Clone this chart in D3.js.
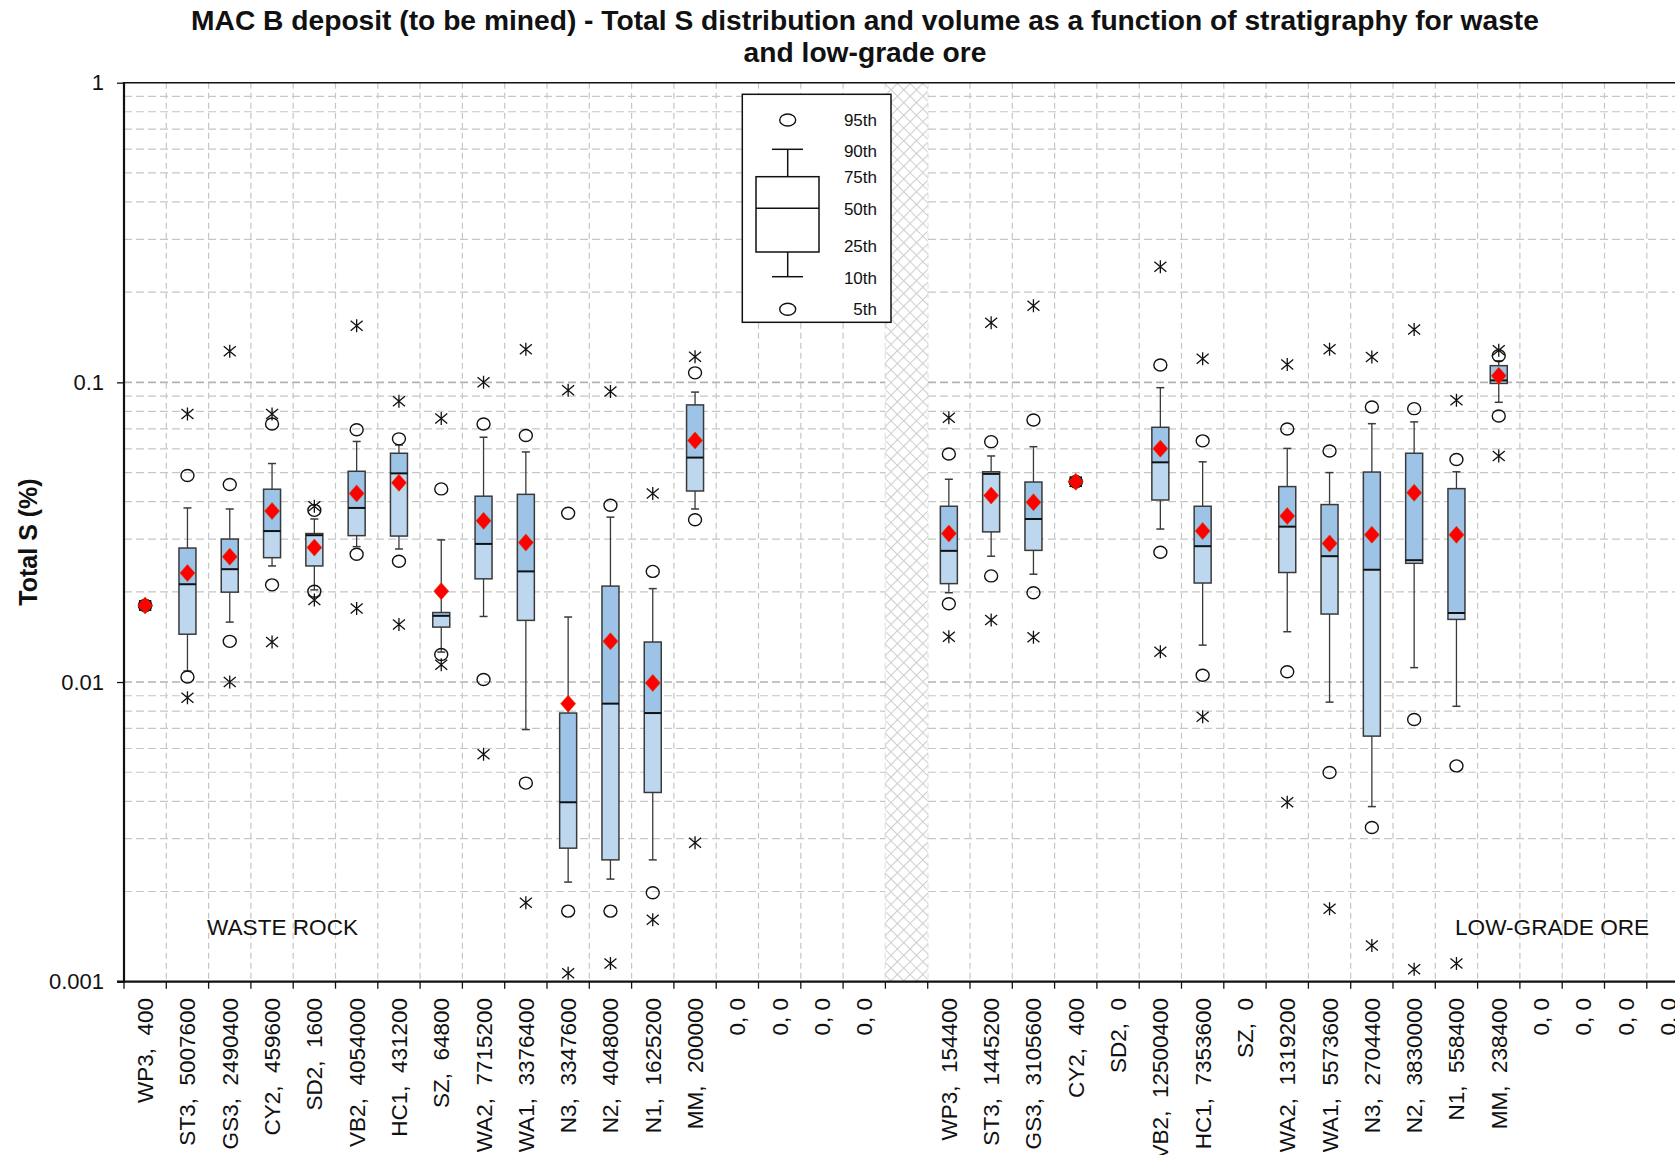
<!DOCTYPE html>
<html>
<head>
<meta charset="utf-8">
<script src="https://cdn.jsdelivr.net/npm/d3@7"></script>
<style>
  html, body { margin: 0; padding: 0; background: #fff; }
  svg { display: block; font-family: "Liberation Sans", Arial, sans-serif; }
  .xlab { white-space: pre; }
</style>
</head>
<body>
<svg id="chart" width="1675" height="1155"></svg>
<script>
// ---- Stratigraphic units and volumes (m3) ----
const wasteUnits   = ["WP3","ST3","GS3","CY2","SD2","VB2","HC1","SZ","WA2","WA1","N3","N2","N1","MM","0","0","0","0"];
const wasteVolumes = [400,5007600,2490400,459600,1600,4054000,431200,64800,7715200,3376400,3347600,4048000,1625200,200000,0,0,0,0];
const oreUnits     = ["WP3","ST3","GS3","CY2","SD2","VB2","HC1","SZ","WA2","WA1","N3","N2","N1","MM","0","0","0","0"];
const oreVolumes   = [154400,1445200,3105600,400,0,12500400,7353600,0,1319200,5573600,2704400,3830000,558400,238400,0,0,0,0];

// ---- Total S (%) statistics, waste rock ----
const wasteMax  = [0.018,0.0784,0.127,0.0784,0.0386,0.1545,0.0865,0.0757,0.100,0.129,0.0942,0.0933,0.0426,0.1217];
const wasteP95  = [0.018,0.0489,0.0456,0.0726,0.0374,0.0695,0.0648,0.0441,0.0726,0.0665,0.0366,0.0389,0.0234,0.1076];
const wasteP90  = [0.018,0.0381,0.0378,0.0536,0.0350,0.0635,0.0618,0.0298,0.0656,0.0586,0.01648,0.0355,0.0205,0.0928];
const wasteP75  = [0.018,0.0280,0.0300,0.0440,0.0313,0.0505,0.0580,0.01706,0.0417,0.0423,0.00788,0.0209,0.0136,0.0841];
const wasteP50  = [0.018,0.0212,0.0238,0.0319,0.0309,0.0381,0.0497,0.01663,0.0289,0.0234,0.00397,0.00847,0.00788,0.0561];
const wasteP25  = [0.018,0.01444,0.01995,0.0260,0.0244,0.0308,0.0307,0.01525,0.0221,0.01606,0.00279,0.00255,0.00428,0.0434];
const wasteP10  = [0.018,0.01088,0.01585,0.0244,0.0203,0.0283,0.0278,0.01259,0.01655,0.00694,0.00215,0.0022,0.00255,0.0378];
const wasteP5   = [0.018,0.0104,0.01367,0.0211,0.0201,0.0267,0.0253,0.01236,0.0102,0.0046,0.00172,0.00172,0.00198,0.0348];
const wasteMin  = [0.018,0.00887,0.0100,0.0136,0.0188,0.0176,0.01556,0.01142,0.00574,0.001836,0.001067,0.00115,0.00161,0.00291];
const wasteMean = [0.018,0.0231,0.0262,0.0372,0.0281,0.0426,0.0462,0.0201,0.0345,0.0292,0.00847,0.01367,0.00993,0.064];

// ---- Total S (%) statistics, low-grade ore ----
const oreMax  = [0.0762,0.158,0.180,0.0466,null,0.243,0.120,null,0.1148,0.129,0.1216,0.150,0.0871,0.128];
const oreP95  = [0.0577,0.0634,0.0749,0.0466,null,0.1143,0.0638,null,0.0699,0.059,0.0828,0.0817,0.0553,0.1227];
const oreP90  = [0.0475,0.0568,0.061,0.0466,null,0.096,0.0543,null,0.0602,0.050,0.0728,0.0738,0.0503,0.118];
const oreP75  = [0.0386,0.0503,0.0465,0.0466,null,0.0708,0.0386,null,0.0449,0.0391,0.0502,0.058,0.0442,0.1137];
const oreP50  = [0.0274,0.0495,0.035,0.0466,null,0.0541,0.0284,null,0.033,0.0263,0.0237,0.0255,0.0170,0.1015];
const oreP25  = [0.0213,0.0317,0.0275,0.0466,null,0.0405,0.0214,null,0.0232,0.01686,0.0066,0.0249,0.01618,0.0992];
const oreP10  = [0.01986,0.0263,0.0229,0.0466,null,0.0324,0.01328,null,0.01472,0.00857,0.00384,0.01117,0.0083,0.0858];
const oreP5   = [0.01824,0.0226,0.01986,0.0466,null,0.0271,0.01054,null,0.01082,0.00499,0.00327,0.0075,0.00525,0.0772];
const oreMin  = [0.01416,0.0161,0.0141,0.0466,null,0.01262,0.00766,null,0.00397,0.00175,0.00132,0.0011,0.00115,0.0568];
const oreMean = [0.0313,0.0419,0.0398,0.0466,null,0.0601,0.0319,null,0.0358,0.029,0.031,0.0428,0.031,0.1052];

const yTicks = [1, 0.1, 0.01, 0.001];
const legendLabels = ["95th","90th","75th","50th","25th","10th","5th"];

const titleLines = ["MAC B deposit (to be mined) - Total S distribution and volume as a function of stratigraphy for waste",
                    "and low-grade ore"];

// ---- layout ----
const svg = d3.select("#chart");
const FONT = '"Liberation Sans", Arial, sans-serif';
const plotLeft = 124, plotTop = 82.7, plotBottom = 981.7;
const bandW = 42.3;

const keys = [...wasteUnits.map((d, i) => "W" + i), "gap", ...oreUnits.map((d, i) => "O" + i)];
const x = d3.scaleBand().domain(keys).range([plotLeft, plotLeft + keys.length * bandW]).padding(0);
const y = d3.scaleLog().domain([0.001, 1]).range([plotBottom, plotTop]);
const plotRight = plotLeft + keys.length * bandW;

// hatch pattern for the separator column
const defs = svg.append("defs");
const pat = defs.append("pattern").attr("id", "hatch").attr("patternUnits", "userSpaceOnUse")
  .attr("width", 9).attr("height", 9).attr("patternTransform", "rotate(45)");
pat.append("rect").attr("width", 9).attr("height", 9).attr("fill", "#fff");
pat.append("path").attr("d", "M0,0H9M0,0V9").attr("stroke", "#cfcfcf").attr("stroke-width", 2.2).attr("fill", "none");

// ---- gridlines ----
const grid = svg.append("g");
const gridVals = [];
for (let e = -3; e < 0; e++) for (let m = 1; m < 10; m++) gridVals.push(m * Math.pow(10, e));
const isDecade = d => Math.abs(Math.log10(d) - Math.round(Math.log10(d))) < 1e-9;
grid.selectAll("line.h").data(gridVals.filter(v => v > 0.0011)).join("line")
  .attr("x1", plotLeft).attr("x2", plotRight)
  .attr("y1", d => y(d)).attr("y2", d => y(d))
  .attr("stroke", d => isDecade(d) ? "#b3b3b3" : "#c6c6c6")
  .attr("stroke-width", d => isDecade(d) ? 1.6 : 1.2)
  .attr("stroke-dasharray", "8,4");
grid.selectAll("line.v").data(keys.slice(1)).join("line")
  .attr("x1", d => x(d)).attr("x2", d => x(d))
  .attr("y1", plotTop).attr("y2", plotBottom)
  .attr("stroke", "#c6c6c6").attr("stroke-width", 1.2).attr("stroke-dasharray", "6,4");

// separator column
svg.append("rect").attr("x", x("gap")).attr("y", plotTop).attr("width", x.bandwidth())
  .attr("height", plotBottom - plotTop).attr("fill", "url(#hatch)");

// ---- box plots ----
const boxW = 17, capW = 8;
const starPath = "M0,-6.5V6.5M-6,-5L6,5M-6,5L6,-5";
const diamondPath = "M0,-8.5L7.5,0L0,8.5L-7.5,0Z";

function drawZone(prefix, s) {
  const g = svg.append("g");
  s.p50.forEach((med, i) => {
    if (med == null) return;
    const cx = x(prefix + i) + x.bandwidth() / 2;
    const gi = g.append("g");
    // whiskers and caps
    [[s.p75[i], s.p90[i]], [s.p25[i], s.p10[i]]].forEach(([a, b]) => {
      if (Math.abs(y(a) - y(b)) < 0.5) return;
      gi.append("line").attr("x1", cx).attr("x2", cx).attr("y1", y(a)).attr("y2", y(b))
        .attr("stroke", "#3a3a3a").attr("stroke-width", 1.3);
      gi.append("line").attr("x1", cx - capW / 2).attr("x2", cx + capW / 2).attr("y1", y(b)).attr("y2", y(b))
        .attr("stroke", "#3a3a3a").attr("stroke-width", 1.5);
    });
    // box: lower quartile range lighter, upper quartile range darker
    if (Math.abs(y(s.p25[i]) - y(s.p75[i])) > 0.5) {
      gi.append("rect").attr("x", cx - boxW / 2).attr("width", boxW)
        .attr("y", y(med)).attr("height", y(s.p25[i]) - y(med)).attr("fill", "#bdd7ee");
      gi.append("rect").attr("x", cx - boxW / 2).attr("width", boxW)
        .attr("y", y(s.p75[i])).attr("height", y(med) - y(s.p75[i])).attr("fill", "#9dc3e6");
      gi.append("rect").attr("x", cx - boxW / 2).attr("width", boxW)
        .attr("y", y(s.p75[i])).attr("height", y(s.p25[i]) - y(s.p75[i]))
        .attr("fill", "none").attr("stroke", "#3a3a3a").attr("stroke-width", 1.5);
      gi.append("line").attr("x1", cx - boxW / 2).attr("x2", cx + boxW / 2).attr("y1", y(med)).attr("y2", y(med))
        .attr("stroke", "#111").attr("stroke-width", 2);
    }
    // 5th / 95th percentiles
    [s.p95[i], s.p5[i]].forEach(v => {
      gi.append("ellipse").attr("cx", cx).attr("cy", y(v)).attr("rx", 6.5).attr("ry", 6)
        .attr("fill", "none").attr("stroke", "#111").attr("stroke-width", 1.4);
    });
    // minimum / maximum
    [s.max[i], s.min[i]].forEach(v => {
      gi.append("path").attr("d", starPath).attr("transform", `translate(${cx},${y(v)})`)
        .attr("stroke", "#111").attr("stroke-width", 1.3).attr("fill", "none");
    });
    // mean
    gi.append("path").attr("d", diamondPath).attr("transform", `translate(${cx},${y(s.mean[i])})`)
      .attr("fill", "#ff0000").attr("stroke", "#d04000").attr("stroke-width", 0.6);
  });
}

drawZone("W", {max: wasteMax, p95: wasteP95, p90: wasteP90, p75: wasteP75, p50: wasteP50,
               p25: wasteP25, p10: wasteP10, p5: wasteP5, min: wasteMin, mean: wasteMean});
drawZone("O", {max: oreMax, p95: oreP95, p90: oreP90, p75: oreP75, p50: oreP50,
               p25: oreP25, p10: oreP10, p5: oreP5, min: oreMin, mean: oreMean});

// ---- zone annotations ----
svg.append("text").attr("x", 207).attr("y", 935).attr("font-size", 22.6).attr("fill", "#111").text("WASTE ROCK");
svg.append("text").attr("x", 1455).attr("y", 935).attr("font-size", 22.6).attr("fill", "#111").text("LOW-GRADE ORE");

// ---- legend ----
const lg = svg.append("g");
lg.append("rect").attr("x", 742.3).attr("y", 94.3).attr("width", 148.7).attr("height", 228)
  .attr("fill", "#fff").attr("stroke", "#111").attr("stroke-width", 1.5);
const lcx = 787.7;
lg.append("ellipse").attr("cx", lcx).attr("cy", 120).attr("rx", 8).attr("ry", 6).attr("fill", "none").attr("stroke", "#111").attr("stroke-width", 1.4);
lg.append("ellipse").attr("cx", lcx).attr("cy", 309.3).attr("rx", 8).attr("ry", 6).attr("fill", "none").attr("stroke", "#111").attr("stroke-width", 1.4);
lg.append("line").attr("x1", lcx).attr("x2", lcx).attr("y1", 149.3).attr("y2", 176.7).attr("stroke", "#111").attr("stroke-width", 1.5);
lg.append("line").attr("x1", lcx).attr("x2", lcx).attr("y1", 252).attr("y2", 276.7).attr("stroke", "#111").attr("stroke-width", 1.5);
lg.append("line").attr("x1", 772).attr("x2", 803).attr("y1", 149.3).attr("y2", 149.3).attr("stroke", "#111").attr("stroke-width", 1.5);
lg.append("line").attr("x1", 772).attr("x2", 803).attr("y1", 276.7).attr("y2", 276.7).attr("stroke", "#111").attr("stroke-width", 1.5);
lg.append("rect").attr("x", 756).attr("y", 176.7).attr("width", 63).attr("height", 75.3).attr("fill", "#fff").attr("stroke", "#111").attr("stroke-width", 1.5);
lg.append("line").attr("x1", 756).attr("x2", 819).attr("y1", 208.3).attr("y2", 208.3).attr("stroke", "#111").attr("stroke-width", 1.5);
const legendY = [120, 151.5, 176.7, 209.5, 246.5, 278.5, 309.3];
lg.selectAll("text").data(legendLabels).join("text")
  .attr("x", 877).attr("y", (d, i) => legendY[i]).attr("dy", "0.35em")
  .attr("text-anchor", "end").attr("font-size", 17).attr("fill", "#111").text(d => d);

// ---- axes ----
const yAxis = d3.axisLeft(y).tickValues(yTicks).tickSize(7).tickPadding(13).tickFormat(d => String(d));
const ya = svg.append("g").attr("transform", `translate(${plotLeft},0)`).call(yAxis);
ya.select(".domain").remove();
ya.selectAll(".tick line").attr("stroke", "#111").attr("stroke-width", 1.3);
ya.selectAll(".tick text").attr("font-size", 22).attr("font-family", FONT).attr("fill", "#111");

svg.append("line").attr("x1", plotLeft).attr("x2", plotRight).attr("y1", plotTop).attr("y2", plotTop)
  .attr("stroke", "#111").attr("stroke-width", 1.6);
svg.append("line").attr("x1", plotLeft).attr("x2", plotLeft).attr("y1", plotTop - 0.8).attr("y2", plotBottom + 1)
  .attr("stroke", "#111").attr("stroke-width", 2.2);
svg.append("line").attr("x1", plotLeft - 7).attr("x2", plotRight).attr("y1", plotBottom).attr("y2", plotBottom)
  .attr("stroke", "#111").attr("stroke-width", 2.2);

// category tick marks on slot boundaries
svg.append("g").selectAll("line").data(keys).join("line")
  .attr("x1", d => x(d)).attr("x2", d => x(d))
  .attr("y1", plotBottom).attr("y2", plotBottom + 7)
  .attr("stroke", "#111").attr("stroke-width", 1.3);

// category labels: unit and volume
function catLabel(unit, vol) {
  if (unit === "0") return "0, 0";
  return unit + ",  " + vol;
}
const labelData = [
  ...wasteUnits.map((u, i) => ({k: "W" + i, t: catLabel(u, wasteVolumes[i])})),
  ...oreUnits.map((u, i) => ({k: "O" + i, t: catLabel(u, oreVolumes[i])}))
];
svg.append("g").selectAll("text").data(labelData).join("text")
  .attr("class", "xlab")
  .attr("transform", d => `translate(${x(d.k) + x.bandwidth() / 2 + 8},998) rotate(-90)`)
  .attr("text-anchor", "end").attr("font-size", 22.5).attr("fill", "#111")
  .text(d => d.t);

// ---- titles ----
svg.append("text").attr("transform", "translate(37,542) rotate(-90)")
  .attr("text-anchor", "middle").attr("font-size", 25).attr("font-weight", "bold").attr("fill", "#111")
  .text("Total S (%)");
svg.append("g").selectAll("text").data(titleLines).join("text")
  .attr("x", 865).attr("y", (d, i) => 30 + i * 32)
  .attr("text-anchor", "middle").attr("font-size", 28.2).attr("font-weight", "bold").attr("fill", "#111")
  .text(d => d);
</script>
</body>
</html>
